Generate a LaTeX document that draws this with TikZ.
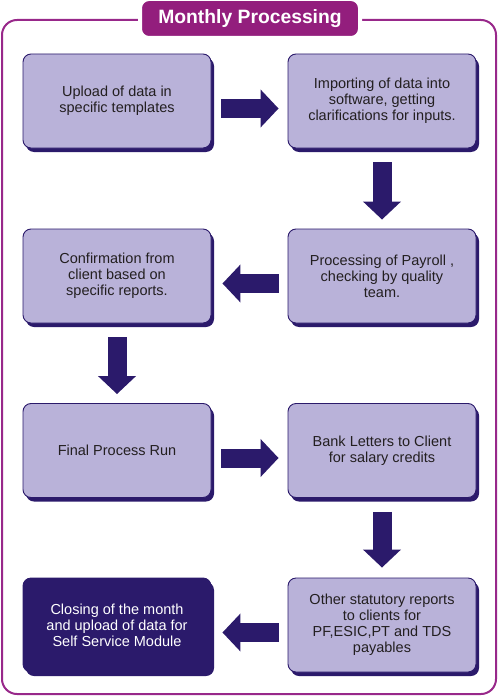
\documentclass[tikz,border=0pt]{standalone}
\usepackage{fontspec}
\setmainfont{Liberation Sans}
\usetikzlibrary{arrows.meta,shadows}
\definecolor{framepurple}{HTML}{98288A}
\definecolor{titlepurple}{HTML}{931E7D}
\definecolor{navy}{HTML}{2B1A6B}
\definecolor{lav}{HTML}{B9B2D9}
\definecolor{txt}{HTML}{231F20}
\tikzset{
  stepbox/.style={draw=navy, line width=0.9pt, fill=lav, rounded corners=8pt,
    minimum width=188pt, minimum height=94pt, inner sep=0pt, align=center,
    text=txt, font=\fontsize{14.5pt}{16pt}\selectfont,
    drop shadow={shadow xshift=3pt, shadow yshift=-4pt, fill=navy, opacity=1}},
  darkbox/.style={stepbox, fill=navy, text=white},
  bigarrow/.style={line width=19pt, draw=navy, -{Triangle[length=18pt,width=37pt]}},
}
\begin{document}
\begin{tikzpicture}[x=1pt,y=-1pt]
\useasboundingbox (0,0) rectangle (500,698);
% frame
\draw[framepurple, line width=2pt, rounded corners=15pt] (2,20) rectangle (496,694);
% title
\node[fill=titlepurple, draw=white, line width=4pt, rounded corners=9pt,
      minimum width=220pt, minimum height=39pt, inner sep=0pt,
      text=white, font=\fontsize{19.3pt}{22pt}\selectfont\bfseries] (title) at (250,18.5) {Monthly Processing};
% boxes
\node[stepbox] (b1) at (117,101) {Upload of data in\\specific templates};
\node[stepbox] (b2) at (382,101) {Importing of data into\\software, getting\\clarifications for inputs.};
\node[stepbox] (b3) at (117,276) {Confirmation from\\client based on\\specific reports.};
\node[stepbox] (b4) at (382,276) {Processing of Payroll ,\\checking by quality\\team.};
\node[stepbox] (b5) at (117,450.5) {Final Process Run};
\node[stepbox] (b6) at (382,450.5) {Bank Letters to Client\\for salary credits};
\node[darkbox] (b7) at (117,625) {Closing of the month\\and upload of data for\\Self Service Module};
\node[stepbox] (b8) at (382,625) {Other statutory reports\\to clients for\\PF,ESIC,PT and TDS\\payables};
% arrows
\draw[bigarrow] ([shift={(10,7.5)}]b1.east) -- ([shift={(-9,7.5)}]b2.west);
\draw[bigarrow] ([yshift=-14pt]b2.south) -- ([yshift=9pt]b4.north);
\draw[bigarrow] ([shift={(-9,7.5)}]b4.west) -- ([shift={(11,7.5)}]b3.east);
\draw[bigarrow] ([yshift=-14pt]b3.south) -- ([yshift=9pt]b5.north);
\draw[bigarrow] ([shift={(10,7.5)}]b5.east) -- ([shift={(-9,7.5)}]b6.west);
\draw[bigarrow] ([yshift=-14pt]b6.south) -- ([yshift=10pt]b8.north);
\draw[bigarrow] ([shift={(-9,7.5)}]b8.west) -- ([shift={(11,7.5)}]b7.east);
\end{tikzpicture}
\end{document}
